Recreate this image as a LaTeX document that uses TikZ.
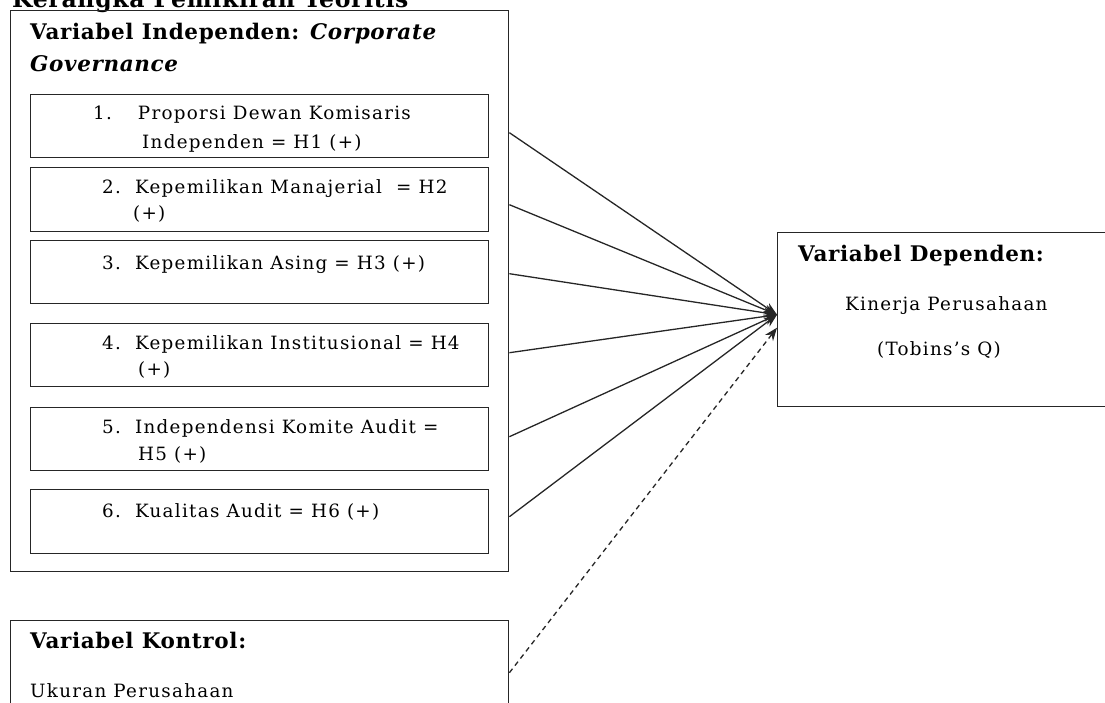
\documentclass[tikz,border=0pt]{standalone}
\usepackage{fontspec}
\setmainfont{DejaVu Serif}[LetterSpace=7,BoldFeatures={LetterSpace=3},BoldItalicFeatures={LetterSpace=3}]
\usetikzlibrary{arrows.meta,calc}

\newcommand{\txtsize}{\fontsize{18.3}{22}\selectfont}
\newcommand{\hdsize}{\fontsize{21.5}{25}\selectfont\bfseries}

\tikzset{
  frame/.style={draw=black!85, line width=1.4pt, anchor=north west, inner sep=0pt},
  line/.style={anchor=base west, inner sep=0pt, font=\txtsize},
  head/.style={anchor=base west, inner sep=0pt, font=\hdsize},
  link/.style={draw=black!85, line width=1.3pt, -{Stealth[length=13pt,width=10pt]}},
}

\begin{document}
\begin{tikzpicture}[x=1pt,y=-1pt]
\useasboundingbox (0,0) rectangle (1105,702);
\node[head, font=\fontsize{23.5}{27}\selectfont\bfseries] (title) at (12,7) {Kerangka Pemikiran Teoritis};
% independent variables
\node[frame, minimum width=498pt, minimum height=561pt] (indep) at (10,10) {};
\node[head] (indephead) at (30,39) {Variabel Independen: \textit{Corporate}};
\node[head] (indephead2) at (30,71) {\textit{Governance}};
\node[frame, minimum width=458pt, minimum height=63pt] (item1) at (30,94) {};
\node[frame, minimum width=458pt, minimum height=64pt] (item2) at (30,167) {};
\node[frame, minimum width=458pt, minimum height=63pt] (item3) at (30,240) {};
\node[frame, minimum width=458pt, minimum height=63pt] (item4) at (30,323) {};
\node[frame, minimum width=458pt, minimum height=63pt] (item5) at (30,407) {};
\node[frame, minimum width=458pt, minimum height=64pt] (item6) at (30,489) {};
\node[line] (item1a) at (93,119) {1.\hspace{26pt}Proporsi Dewan Komisaris};
\node[line] (item1b) at (142,148) {Independen = H1 (+)};
\node[line] (item2a) at (102,193) {2.\ \ Kepemilikan Manajerial\ \ = H2};
\node[line] (item2b) at (133,219) {(+)};
\node[line] (item3a) at (102,269) {3.\ \ Kepemilikan Asing = H3 (+)};
\node[line] (item4a) at (102,349) {4.\ \ Kepemilikan Institusional = H4};
\node[line] (item4b) at (138,375) {(+)};
\node[line] (item5a) at (102,433) {5.\ \ Independensi Komite Audit =};
\node[line] (item5b) at (138,460) {H5 (+)};
\node[line] (item6a) at (102,517) {6.\ \ Kualitas Audit = H6 (+)};
% dependent variable
\node[frame, minimum width=340pt, minimum height=174pt] (dep) at (777,232) {};
\node[head] (dephead) at (798,261) {Variabel Dependen:};
\node[line] (deptext) at (845,310) {Kinerja Perusahaan};
\node[line] (depq) at (877,355) {(Tobins’s Q)};
% control variable
\node[frame, minimum width=498pt, minimum height=104pt] (kontrol) at (10,620) {};
\node[head] (kontrolhead) at (30,648) {Variabel Kontrol:};
\node[line] (kontroltext) at (30,697) {Ukuran Perusahaan};
% links
\coordinate (hub) at ($(dep.west)+(0,-5)$);
\foreach \i/\s in {1/6.5,2/5,3/1.5,4/-2.5,5/-2.5,6/-5}
  \draw[link] ($(indep.east |- item\i.center)+(0,\s)$) -- (hub);
\draw[link, dash pattern=on 5pt off 4pt] (kontrol.east) -- ($(dep.west)+(0,8)$);
\end{tikzpicture}
\end{document}
